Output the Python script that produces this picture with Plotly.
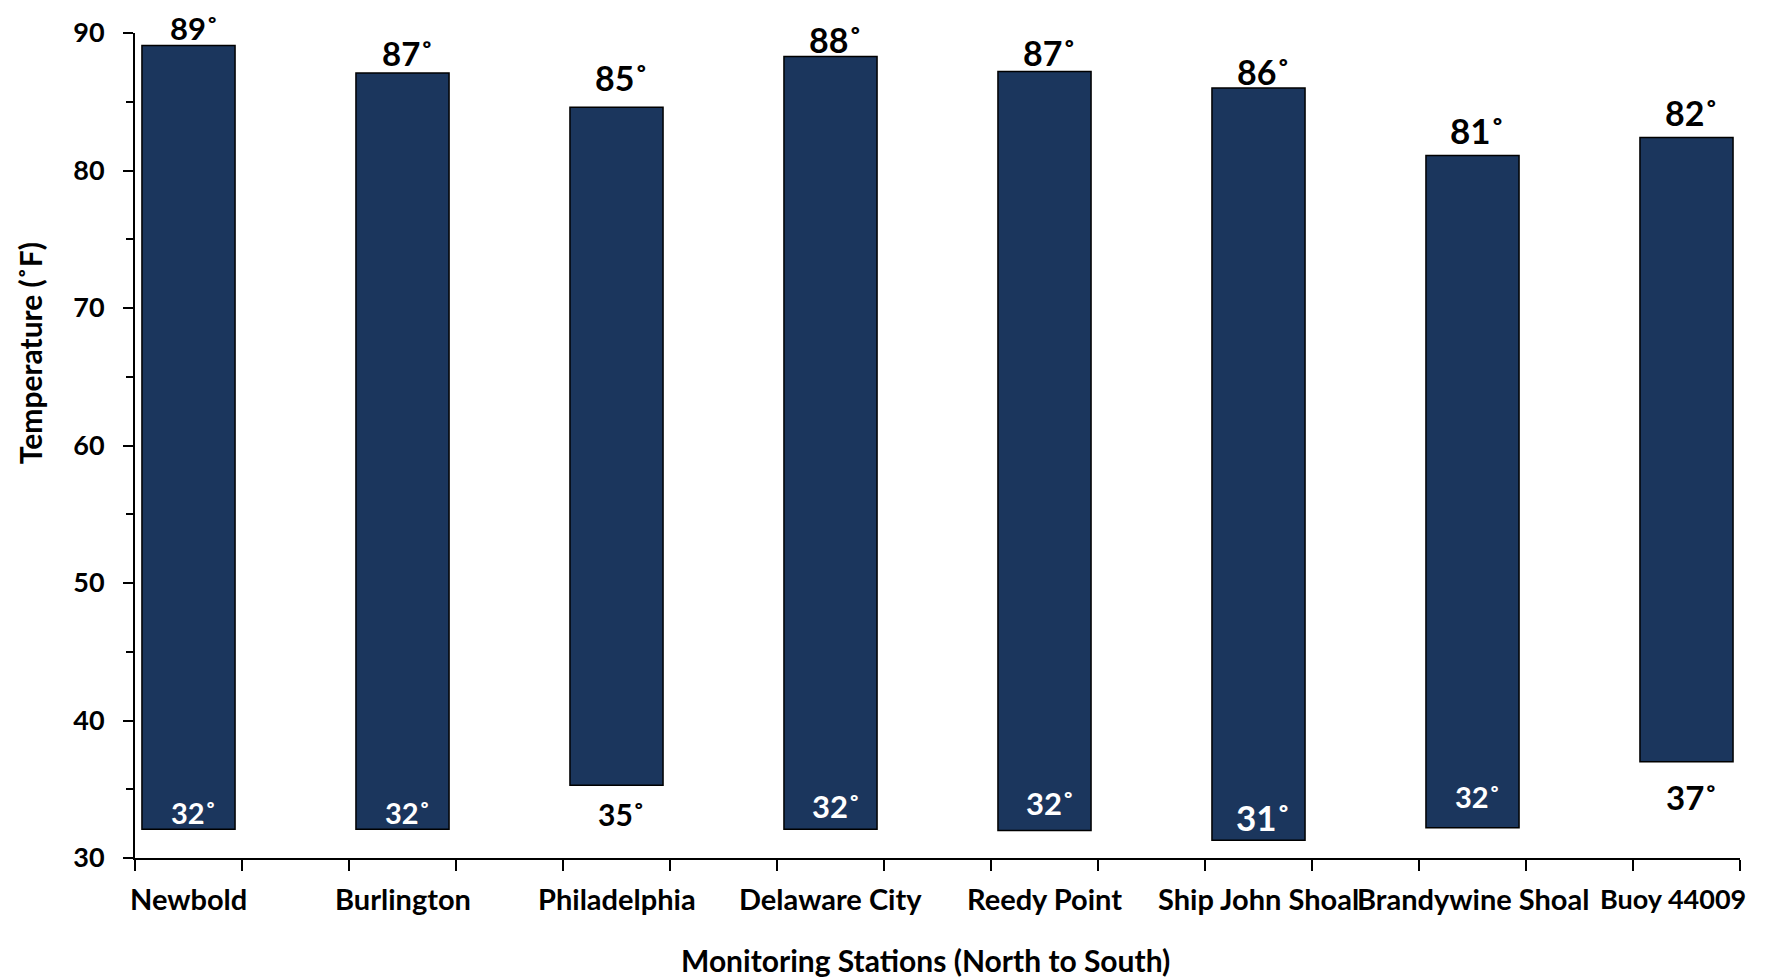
import plotly.graph_objects as go

# ---- data ----
stations = ["Newbold", "Burlington", "Philadelphia", "Delaware City",
            "Reedy Point", "Ship John Shoal", "Brandywine Shoal", "Buoy 44009"]
max_temp = [89.1, 87.1, 84.6, 88.3, 87.2, 86.0, 81.1, 82.4]
min_temp = [32.1, 32.1, 35.3, 32.1, 32.0, 31.3, 32.2, 37.0]
max_labels = ["89˚", "87˚", "85˚", "88˚", "87˚", "86˚", "81˚", "82˚"]
min_labels = ["32˚", "32˚", "35˚", "32˚", "32˚", "31˚", "32˚", "37˚"]
y_ticks = [30, 40, 50, 60, 70, 80, 90]

# ---- styling (label placement offsets in px, font sizes) ----
top_shift = [17, 20, 30, 16.4, 19, 16.3, 25.8, 24.7]
top_size = [31, 33, 34, 34, 34, 34, 35, 34]
min_shift = [16.3, 16.3, -28.5, 23.5, 27.2, 23.5, 31, -35.7]
min_size = [29, 29, 30, 31, 31, 35, 29, 33]
cat_label_xshift = [0, 0, 0, 0, 0, 0, 0, -14]
cat_label_size = [29, 29, 29, 29, 29, 29, 29, 27]

FONT = "Lato"
BAR_COLOR = "#1b365d"

# category slots: each station followed by an empty spacer slot
slots = []
for i, s in enumerate(stations):
    slots.append(s)
    if i < len(stations) - 1:
        slots.append(" " * (i + 1))

heights = [mx - mn for mx, mn in zip(max_temp, min_temp)]

fig = go.Figure()
fig.add_trace(go.Bar(
    x=stations, y=heights, base=min_temp,
    width=[0.87] * len(stations),
    marker=dict(color=BAR_COLOR, line=dict(color="black", width=1.5)),
    hoverinfo="skip", showlegend=False,
))

annotations = []
for i, s in enumerate(stations):
    annotations.append(dict(
        x=s, y=max_temp[i], xref="x", yref="y", text=max_labels[i],
        showarrow=False, yanchor="middle", xanchor="center",
        yshift=top_shift[i], xshift=5,
        font=dict(family=FONT, size=top_size[i], color="black", weight="bold"),
    ))
    inside = min_shift[i] > 0
    annotations.append(dict(
        x=s, y=min_temp[i], xref="x", yref="y", text=min_labels[i],
        showarrow=False, yanchor="middle", xanchor="center",
        yshift=min_shift[i], xshift=5,
        font=dict(family=FONT, size=min_size[i],
                  color="white" if inside else "black", weight="bold"),
    ))
    # category label under each bar
    annotations.append(dict(
        x=s, y=0, xref="x", yref="paper", text=s,
        showarrow=False, yanchor="middle", xanchor="center",
        yshift=-40, xshift=cat_label_xshift[i],
        font=dict(family=FONT, size=cat_label_size[i], color="black",
                  weight="bold"),
    ))

annotations.append(dict(
    text="Monitoring Stations (North to South)", xref="paper", yref="paper",
    x=0.4928, y=-0.124, showarrow=False, xanchor="center", yanchor="middle",
    font=dict(family=FONT, size=30, color="black", weight="bold"),
))
annotations.append(dict(
    text="Temperature (˚F)", xref="paper", yref="paper",
    x=-0.0654, y=0.612, showarrow=False, xanchor="center", yanchor="middle",
    textangle=-90,
    font=dict(family=FONT, size=30, color="black", weight="bold"),
))

fig.update_layout(
    width=1758, height=969,
    margin=dict(l=127, r=26, t=25, b=119, autoexpand=False),
    plot_bgcolor="white", paper_bgcolor="white",
    annotations=annotations,
    xaxis=dict(
        type="category", categoryorder="array", categoryarray=slots,
        range=[-0.5, len(slots) - 0.5],
        tickson="boundaries", ticks="outside", ticklen=11, tickwidth=2,
        tickcolor="black", showline=True, linewidth=2, linecolor="black",
        showgrid=False, zeroline=False, automargin=False,
        showticklabels=False, fixedrange=True,
    ),
    yaxis=dict(
        range=[30, 90], tickvals=y_ticks, ticks="outside", ticklen=10,
        tickwidth=2, tickcolor="black", showline=True, linewidth=2,
        linecolor="black", showgrid=False, zeroline=False, automargin=False,
        tickfont=dict(family=FONT, size=27, color="black", weight="bold"),
        minor=dict(dtick=5, tick0=30, ticks="outside", ticklen=7,
                   tickwidth=2, tickcolor="black", showgrid=False),
        ticklabelstandoff=13, fixedrange=True,
    ),
)

fig.write_html("out.html")
